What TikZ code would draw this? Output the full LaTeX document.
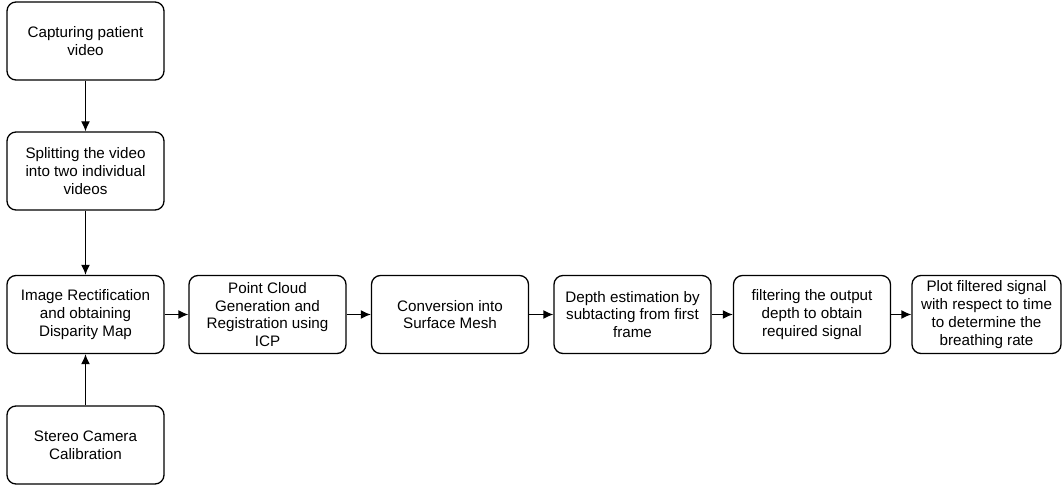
\documentclass[tikz,border=0pt]{standalone}
\usepackage{fontspec}
\setmainfont{Liberation Sans}
\usetikzlibrary{arrows.meta}

\tikzset{
    stage/.style={draw, line width=1.3pt, rounded corners=9pt, align=center,
        minimum width=157pt, minimum height=78pt, inner sep=1pt,
        font=\fontsize{15.2}{17.8}\selectfont},
    flow/.style={line width=1.3pt, -{Latex[length=10pt, width=9pt]}},
}

\begin{document}
\begin{tikzpicture}[x=1pt, y=-1pt]
        \useasboundingbox (0, 0) rectangle (1063, 486);

        \node[stage] (capture) at ( 85.5,  41  ) {Capturing patient\\video};
        \node[stage] (split)   at ( 85.5, 171  ) {Splitting the video\\into two individual\\videos};
        \node[stage] (rectify) at ( 85.5, 314.5) {Image Rectification\\and obtaining\\Disparity Map};
        \node[stage] (calib)   at ( 85.5, 445  ) {Stereo Camera\\Calibration};

        \node[stage] (cloud)   at (267.5, 314.5) {Point Cloud\\Generation and\\Registration using\\ICP};
        \node[stage] (mesh)    at (450,   314.5) {Conversion into\\Surface Mesh};
        \node[stage] (depth)   at (632.5, 314.5) {Depth estimation by\\subtacting from first\\frame};
        \node[stage] (filter)  at (812,   314.5) {filtering the output\\depth to obtain\\required signal};
        \node[stage, minimum width=149pt] (plot) at (986.5, 314.5) {Plot filtered signal\\with respect to time\\to determine the\\breathing rate};

        \draw[flow] (capture) -- (split);
        \draw[flow] (split)   -- (rectify);
        \draw[flow] (calib)   -- (rectify);

        \draw[flow] (rectify) -- (cloud);
        \draw[flow] (cloud)   -- (mesh);
        \draw[flow] (mesh)    -- (depth);
        \draw[flow] (depth)   -- (filter);
        \draw[flow] (filter)  -- (plot);
    \end{tikzpicture}
\end{document}
